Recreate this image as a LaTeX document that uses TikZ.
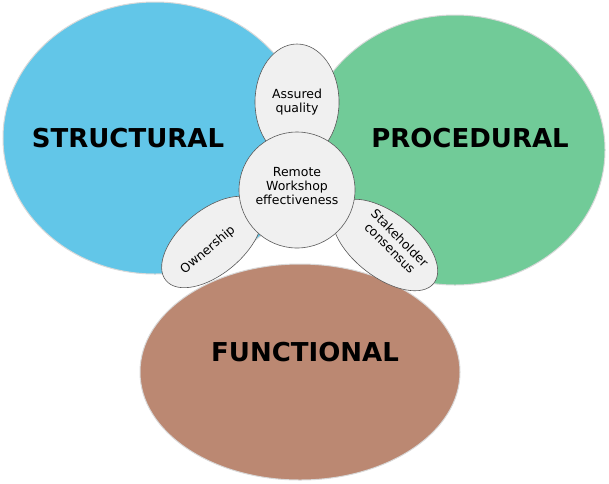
\documentclass[tikz,border=0pt]{standalone}
\usepackage{fontspec}
\setmainfont{DejaVu Sans}
\definecolor{cb}{HTML}{62C6E8}
\definecolor{cg}{HTML}{6CC995}
\definecolor{cr}{HTML}{B9846D}
\begin{document}
\begin{tikzpicture}[x=1pt,y=-1pt,
 big/.style={draw=white!85!black,line width=1pt},
 pet/.style={draw=gray!70!black,fill=gray!12,line width=0.6pt},
 lab/.style={font=\bfseries\fontsize{26}{28}\selectfont},
 sm/.style={font=\fontsize{12.5}{14}\selectfont,align=center,inner sep=1pt}]
\useasboundingbox (0,0) rectangle (609,483);
\fill[big,fill=cb] (155,138) ellipse [x radius=152,y radius=136];
\fill[big,fill=cg,opacity=0.97] (455,150) ellipse [x radius=150,y radius=135];
\fill[big,fill=cr,opacity=0.97] (300,372) ellipse [x radius=160,y radius=108];
\node[lab] (s) at (128,138) {STRUCTURAL};
\node[lab] (p) at (470,138) {PROCEDURAL};
\node[lab] (f) at (305,352) {FUNCTIONAL};
\draw[pet] (297,102) ellipse [x radius=42,y radius=58];
\draw[pet,rotate around={40:(212,242)}] (212,242) ellipse [x radius=60,y radius=32];
\draw[pet,rotate around={-38:(385,245)}] (385,245) ellipse [x radius=62,y radius=32];
\draw[pet] (297,190) circle (58);
\node[sm] (aq) at (297,102) {Assured\\quality};
\node[sm] (c) at (297,186) {Remote\\Workshop\\effectiveness};
\node[sm,rotate=40] (o) at (208,250) {Ownership};
\node[sm,rotate=-45] (sc) at (395,243) {Stakeholder\\consensus};
\end{tikzpicture}
\end{document}
